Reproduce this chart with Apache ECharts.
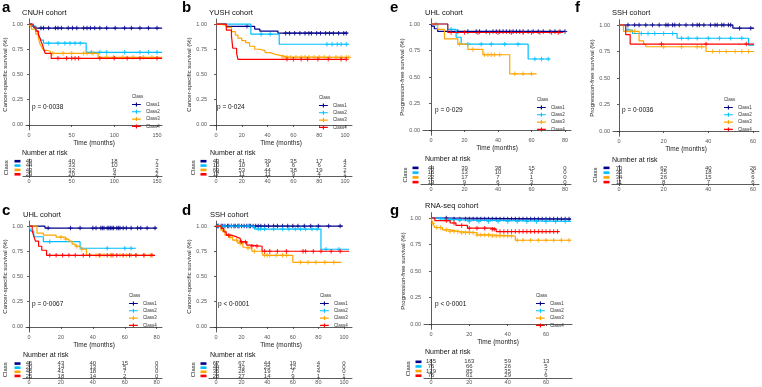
<!DOCTYPE html>
<html><head><meta charset="utf-8">
<script src="https://cdn.jsdelivr.net/npm/echarts@6/dist/echarts.min.js"></script>
<style>html,body{margin:0;padding:0;background:#fff}#c{width:762px;height:387px}</style>
</head><body><div id="c"></div>
<script>
// ---------------- DATA ----------------
const classNames = ['Class1','Class2','Class3','Class4'];
const classColors = ['#00008B','#00BFFF','#FFA500','#FF0000'];

// (a) CNUH cohort – cancer-specific survival. steps: [month, survival after drop]
const aSteps = [
  [[0,1],[3,0.98],[6,0.96],[156,0.96]],
  [[0,1],[3,0.98],[8,0.95],[10,0.93],[12,0.88],[14,0.84],[17,0.81],[67,0.72],[156,0.72]],
  [[0,1],[2,0.98],[3,0.95],[8,0.90],[11,0.86],[13,0.80],[15,0.77],[17,0.74],[20,0.73],[25,0.71],[81,0.67],[156,0.67]],
  [[0,1],[5,0.97],[8,0.93],[11,0.89],[13,0.86],[14,0.83],[16,0.79],[17,0.76],[19,0.71],[26,0.66],[156,0.66]]
];
const aCens = [
  [14,17,23,31,34,38,46,51,56,64,68,72,77,83,91,101,112,120,130,140,150],
  [23,34,42,48,54,60,73,83,91,112,130,140,150],
  [28,40,50,64,68,75,91,99,110,122,134,144],
  [34,44,50,54,58,83,100,115,130,150]
];
const aTicks = [0,50,100,150];
const aRisk = [[49,40,18,7],[44,33,10,3],[43,32,9,2],[29,20,4,2]];

// (b) YUSH cohort – cancer-specific survival
const bSteps = [
  [[0,1],[8,0.977],[30,0.95],[34,0.93],[48,0.91],[102,0.91]],
  [[0,1],[27,0.90],[49,0.80],[103,0.80]],
  [[0,1],[2,0.99],[8,0.967],[12,0.924],[15,0.89],[17,0.86],[20,0.836],[23,0.816],[26,0.78],[30,0.75],[34,0.737],[38,0.717],[42,0.70],[46,0.69],[50,0.675],[55,0.67],[103,0.67]],
  [[0,1],[8,0.94],[12,0.88],[13,0.76],[16,0.71],[17,0.65],[101,0.65]]
];
const bCens = [
  [24,54,57,61,65,69,72,74,78,81,85,88,91,95,99,101],
  [35,42,86,90,94,97,101],
  [52,55,58,62,66,69,72,76,80,84,88,93,97,101,103],
  [55,60,66,71,79,87,97,101]
];
const bTicks = [0,20,40,60,80,100];
const bRisk = [[43,41,39,35,17,4],[10,10,9,6,6,2],[69,53,44,38,19,2],[17,11,11,9,4,1]];

// (c) UHL cohort – cancer-specific survival
const cSteps = [
  [[0,1],[10,0.98],[80,0.98]],
  [[0,1],[1,0.95],[3,0.894],[9,0.845],[32,0.78],[67,0.78]],
  [[0,1],[5,0.93],[9,0.91],[17,0.89],[23,0.87],[25,0.85],[27,0.82],[29,0.80],[31,0.79],[33,0.77],[36,0.71],[78,0.71]],
  [[0,1],[2,0.95],[3,0.90],[4,0.85],[6,0.80],[8,0.76],[11,0.71],[79,0.71]]
];
const cCens = [
  [12,26,32,40,42,45,46,47,49,50,51,52,53,55,56,57,59,61,64,68,70,74,79],
  [13,49,60,64],
  [20,23,30,33,38,42,45,47,51,53,57,61,64,67,72,76],
  [13,17,21,25,29,34,38,44,49,52,55,59,63,67,72,77]
];
const cTicks = [0,20,40,60,80];
const cRisk = [[46,43,40,15,0],[20,14,13,5,0],[45,41,18,7,0],[25,18,14,2,0]];

// (d) SSH cohort – cancer-specific survival
const dSteps = [
  [[0,1],[99,1]],
  [[0,1],[30,0.97],[82,0.77],[104,0.77]],
  [[0,1],[4,0.96],[7,0.91],[10,0.89],[13,0.86],[17,0.83],[21,0.79],[24,0.78],[28,0.75],[36,0.73],[37,0.71],[60,0.64],[98,0.64]],
  [[0,1],[4,0.977],[6,0.943],[8,0.91],[12,0.893],[16,0.877],[19,0.843],[24,0.81],[27,0.80],[36,0.75],[104,0.75]]
];
const dCens = [
  [1,2,4,5,7,9,10,12,14,15,17,18,20,22,24,26,27,29,31,33,35,38,41,45,48,52,56,60,64,69,74,80,88,97],
  [2,6,12,18,25,33,35,38,45,52,57,62,66,70,75,79,86,96],
  [5,11,16,19,25,30,38,40,42,47,52,55,66,72,78,85,92],
  [10,20,23,28,32,38,42,48,55,68,70,76,82,90,97]
];
const dTicks = [0,20,40,60,80,100];
const dRisk = [[67,67,44,19,4,0],[44,43,25,12,5,0],[35,28,19,7,4,0],[28,27,14,9,1,1]];

// (e) UHL cohort – progression-free survival
const eSteps = [
  [[0,1],[0.5,0.98],[2,0.955],[4,0.93],[80,0.93]],
  [[0,1],[10,0.95],[15,0.875],[18,0.81],[58,0.67],[71,0.67]],
  [[0,1],[4,0.95],[8,0.86],[16,0.81],[22,0.76],[31,0.71],[47,0.53],[63,0.53]],
  [[0,1],[10,0.92],[79,0.92]]
];
const eCens = [
  [16,22,27,29,33,37,39,41,43,45,47,49,51,53,55,58,61,64,67,71,74,77,80],
  [3,12,22,30,36,44,52,62,66,70],
  [17,25,32,34,36,38,41,50,55,60],
  [12,20,28,35,40,48,55,60,65,72,76]
];
const eTicks = [0,20,40,60,80];
const eRisk = [[44,39,38,15,0],[16,13,10,3,0],[22,17,7,1,0],[13,9,6,3,0]];

// (f) SSH cohort – progression-free survival
const fSteps = [
  [[0,1],[51,0.97],[60.5,0.97]],
  [[0,1],[3,0.953],[6,0.92],[26,0.875],[58,0.81],[60.5,0.81]],
  [[0,1],[2,0.94],[9,0.85],[11,0.82],[12,0.795],[39,0.75],[60.5,0.75]],
  [[0,1],[3,0.91],[5,0.82],[60.5,0.82]]
];
const fCens = [
  [4,7,9,12,15,18,21,22,24,25,27,30,33,35,36,38,41,43,44,46,47,49,50,54,59],
  [4,10,13,16,20,24,28,31,35,40,45,50,55],
  [5,7,20,28,35,37,42,45,48,52,55,58],
  [19,39,57]
];
const fTicks = [0,20,40,60];
const fRisk = [[70,62,40,26],[33,25,18,8],[34,26,15,6],[11,8,7,6]];

// (g) RNA-seq cohort – progression-free survival
const gSteps = [
  [[0,1],[10,0.99],[73,0.99]],
  [[0,1],[4,0.99],[7,0.98],[19,0.968],[73,0.968]],
  [[0,1],[0.5,0.97],[1,0.95],[2,0.91],[6,0.888],[10,0.872],[15,0.862],[24,0.84],[31,0.83],[44,0.79],[73,0.79]],
  [[0,1],[2,0.975],[10,0.953],[13,0.93],[19,0.904],[31,0.895],[34,0.872],[67,0.872]]
];
const gCens = [
  [8,12,15,18,20,22,24,26,28,30,32,34,36,38,40,42,44,46,48,50,52,54,56,58,60,62,64,66,68,70,72],
  [5,10,15,20,25,30,35,40,45,50,55,60,65,70],
  [1,3,5,8,10,12,14,16,18,20,22,24,26,28,30,32,34,36,38,40,42,45,48,52,56,60,64,68,72],
  [8,12,16,20,24,28,32,33,36,38,40,42,44,46,48,50,52,54,56,58,60,62,64,66]
];
const gTicks = [0,20,40,60];
const gRisk = [[185,163,59,13],[76,66,26,5],[129,85,35,7],[76,61,29,6]];

const CSS = 'Cancer-specific survival (%)';
const PFS = 'Progression-free survival (%)';

// ---------------- LAYOUT ----------------
const panels = [
  {letter:'a', title:'CNUH cohort', ylab:CSS, p:'p = 0·0038', steps:aSteps, cens:aCens, ticks:aTicks, risk:aRisk,
   L:26,T:19,R:162,B:130,x0:29,pxm:0.8533, rL:23,rT:159,rB:176.5, lt:[2,8], tt:[22,12.5], pp:[32,107], lg:[132,97], nr:[22,153.5], yGap:17, rGap:14},
  {letter:'b', title:'YUSH cohort', ylab:CSS, p:'p = 0·024', steps:bSteps, cens:bCens, ticks:bTicks, risk:bRisk,
   L:210,T:19,R:352,B:130,x0:216,pxm:1.29, rL:209,rT:159,rB:176.5, lt:[182,8], tt:[209,12.5], pp:[217,107], lg:[319,98], nr:[210,153.5], yGap:14, rGap:13},
  {letter:'c', title:'UHL cohort', ylab:CSS, p:'p = 0·0067', steps:cSteps, cens:cCens, ticks:cTicks, risk:cRisk,
   L:26,T:221,R:162,B:332,x0:29,pxm:1.596, rL:23,rT:361.5,rB:378, lt:[2,210.5], tt:[23,214.5], pp:[32,304], lg:[129,296], nr:[23,355], yGap:18, rGap:15},
  {letter:'d', title:'SSH cohort', ylab:CSS, p:'p < 0·0001', steps:dSteps, cens:dCens, ticks:dTicks, risk:dRisk,
   L:210,T:221,R:352,B:332,x0:216,pxm:1.28, rL:209,rT:361.5,rB:378, lt:[182,210.5], tt:[210,214.5], pp:[218,304], lg:[320,296], nr:[210,355], yGap:14, rGap:13},
  {letter:'e', title:'UHL cohort', ylab:PFS, p:'p = 0·029', steps:eSteps, cens:eCens, ticks:eTicks, risk:eRisk,
   L:423,T:18.7,R:571,B:135.3,x0:431,pxm:1.675, rL:421,rT:165.5,rB:184.5, lt:[390,8], tt:[425,13], pp:[435,110], lg:[537,100], nr:[425,159.5], yGap:14, rGap:11},
  {letter:'f', title:'SSH cohort', ylab:PFS, p:'p = 0·0036', steps:fSteps, cens:fCens, ticks:fTicks, risk:fRisk,
   L:613,T:19.7,R:759,B:136.3,x0:619,pxm:2.233, rL:612,rT:165.5,rB:184.5, lt:[575,8], tt:[612,13], pp:[622,110], lg:[724,100], nr:[612,160], yGap:16, rGap:14},
  {letter:'g', title:'RNA-seq cohort', ylab:PFS, p:'p < 0·0001', steps:gSteps, cens:gCens, ticks:gTicks, risk:gRisk,
   L:424,T:212.7,R:572,B:329.3,x0:431,pxm:1.917, rL:424,rT:359.5,rB:378, lt:[390,210.5], tt:[425,206], pp:[435,304], lg:[536,296], nr:[425,352.5], yGap:14, rGap:13}
];

// ---------------- BUILD ----------------
const FONT = '"Liberation Sans", Arial, sans-serif';
const AX = '#333';
const plusPath = 'path://M3.8,0H6.2V3.8H10V6.2H6.2V10H3.8V6.2H0V3.8H3.8Z';
const legendIcon = 'path://M0,3.6H22V6.4H0Z M9.6,0H12.4V10H9.6Z';
const yTicks = [0,0.25,0.5,0.75,1];

function surv(steps, t){ let s = steps[0][1]; for (const st of steps){ if (st[0] <= t) s = st[1]; else break; } return s; }

const grid=[], xAxis=[], yAxis=[], series=[], legend=[], graphic=[];
const rich = {};
classColors.forEach((c,i)=>{ rich['b'+i] = {width:6, height:2.6, lineHeight:2.6, fontSize:2, backgroundColor:c}; });

function txt(x,y,text,size,opts){
  opts = opts || {};
  graphic.push({type:'text', x:x, y:y, silent:true, style:{text:text, fontSize:size, fontFamily:FONT,
    fontWeight:opts.bold?'bold':'normal', fill:opts.color||'#000',
    textAlign:'left', align:'left', textVerticalAlign:'middle', verticalAlign:'middle'}});
}

panels.forEach((P, pi) => {
  const gi = 2*pi, ri = 2*pi+1;
  grid.push({left:P.L, top:P.T, width:P.R-P.L, height:P.B-P.T});
  grid.push({left:P.rL, top:P.rT, width:P.R-P.rL, height:P.rB-P.rT});
  const axLine = {show:true, lineStyle:{color:AX, width:0.8}};
  const lab = {fontSize:5.5, color:'#555', fontFamily:FONT};
  xAxis.push({gridIndex:gi, type:'value', min:(P.L-P.x0)/P.pxm, max:(P.R-P.x0)/P.pxm,
    axisLine:axLine, axisTick:{show:true, length:2, customValues:P.ticks, lineStyle:{color:AX,width:0.8}},
    axisLabel:Object.assign({customValues:P.ticks, margin:2.5}, lab), splitLine:{show:false},
    name:'Time (months)', nameLocation:'middle', nameGap:7.5, nameTextStyle:{fontSize:6.5, color:'#222', fontFamily:FONT}});
  yAxis.push({gridIndex:gi, type:'value', min:-0.05, max:1.05,
    axisLine:axLine, axisTick:{show:true, length:2, customValues:yTicks, lineStyle:{color:AX,width:0.8}},
    axisLabel:Object.assign({customValues:yTicks, margin:3, formatter:v=>Number(v).toFixed(2)}, lab), splitLine:{show:false},
    name:P.ylab, nameLocation:'middle', nameRotate:90, nameGap:P.yGap, nameTextStyle:{fontSize:6, color:'#222', fontFamily:FONT}});
  xAxis.push({gridIndex:ri, type:'value', min:(P.rL-P.x0)/P.pxm, max:(P.R-P.x0)/P.pxm,
    axisLine:axLine, axisTick:{show:true, length:1.5, customValues:P.ticks, lineStyle:{color:AX,width:0.8}},
    axisLabel:Object.assign({customValues:P.ticks, margin:1.5}, lab), splitLine:{show:false}});
  yAxis.push({gridIndex:ri, type:'category', data:classNames, inverse:true,
    axisLine:axLine, axisTick:{show:false},
    axisLabel:{interval:0, hideOverlap:false, formatter:(v,i)=>'{b'+i+'| }', rich:rich, margin:2.5},
    name:'Class', nameLocation:'middle', nameRotate:90, nameGap:P.rGap, nameTextStyle:{fontSize:6, color:'#222', fontFamily:FONT}});

  classNames.forEach((cn,k)=>{
    series.push({type:'line', name:cn, xAxisIndex:gi, yAxisIndex:gi, step:'end', symbol:'none', silent:true,
      data:P.steps[k], lineStyle:{color:classColors[k], width:1.2}, itemStyle:{color:classColors[k]}, z:2+k});
    series.push({type:'scatter', name:cn, xAxisIndex:gi, yAxisIndex:gi, symbol:plusPath, symbolSize:4.5, silent:true,
      data:P.cens[k].map(t=>[t, surv(P.steps[k], t)]), itemStyle:{color:classColors[k]}, z:2+k});
  });
  const rdata = [];
  classNames.forEach((cn,k)=>P.ticks.forEach((t,j)=>rdata.push([t, cn, P.risk[k][j]])));
  series.push({type:'scatter', name:'risk'+pi, xAxisIndex:ri, yAxisIndex:ri, symbolSize:1, silent:true,
    itemStyle:{color:'rgba(0,0,0,0)'}, data:rdata,
    label:{show:true, position:'inside', formatter:p=>String(p.value[2]), fontSize:6, color:'#000', fontFamily:FONT}});

  legend.push({data:classNames, left:P.lg[0], top:P.lg[1]+5, orient:'vertical', padding:0,
    itemWidth:9, itemHeight:4, itemGap:2.3, icon:legendIcon, selectedMode:false,
    textStyle:{fontSize:4.5, lineHeight:4, color:'#333', fontFamily:FONT}});

  txt(P.lt[0], P.lt[1], P.letter, 15, {bold:true});
  txt(P.tt[0], P.tt[1], P.title, 7.5, {color:'#111'});
  txt(P.pp[0], P.pp[1], P.p, 6.5, {color:'#111'});
  txt(P.lg[0], P.lg[1], 'Class', 4.5, {color:'#333'});
  txt(P.nr[0], P.nr[1], 'Number at risk', 7, {color:'#111'});
});

const chart = echarts.init(document.getElementById('c'), null, {renderer:'canvas'});
chart.setOption({animation:false, backgroundColor:'#fff', grid, xAxis, yAxis, series, legend, graphic});
</script></body></html>
